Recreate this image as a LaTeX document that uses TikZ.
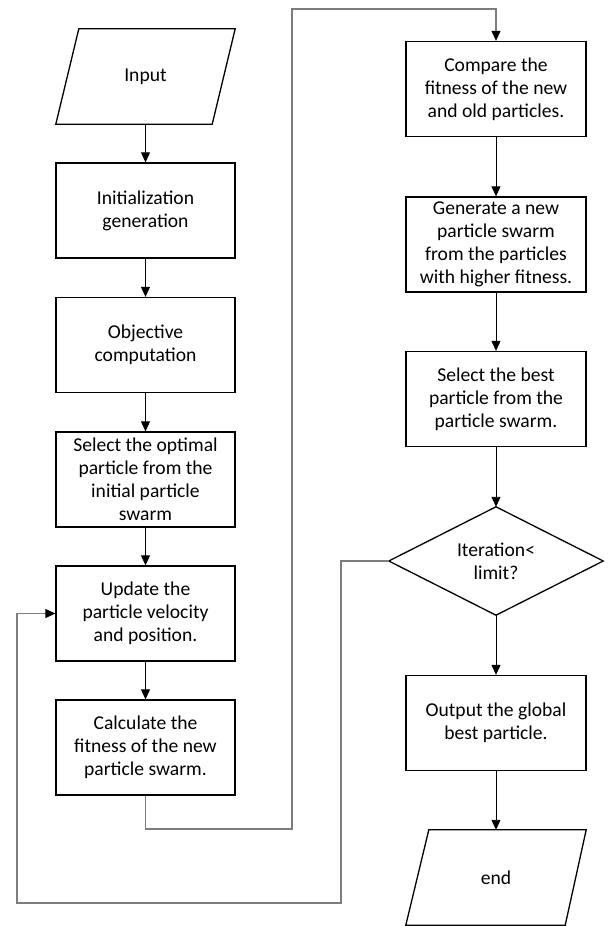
\documentclass[tikz,border=0pt]{standalone}
\usepackage{fontspec}
\setmainfont{Carlito}
\usetikzlibrary{arrows.meta}
\begin{document}
\begin{tikzpicture}[x=1pt,y=-1pt,
  every node/.style={font=\fontsize{19.6}{23}\selectfont, align=center, inner sep=0pt},
  procbox/.style={draw=black, line width=1.3pt, minimum width=179pt, minimum height=95pt},
  ghost/.style={minimum width=179pt, minimum height=95pt},
  arr/.style={draw=black, line width=0.9pt, -{Triangle[width=9pt,length=10pt]}},
  loopline/.style={draw={rgb,255:red,125;green,125;blue,125}, line width=1.1pt, -{Triangle[width=9pt,length=10pt,color=black]}},
  shapeline/.style={draw=black, line width=1.3pt, line join=miter}
]
\useasboundingbox (0,0) rectangle (608,926);
% left column
\node[ghost] (inp) at (145.5,76.5) {Input};
\draw[shapeline] ([xshift=23pt]inp.north west) -- (inp.north east) -- ([xshift=-23pt]inp.south east) -- (inp.south west) -- cycle;
\node[procbox] (init) at (145.5,210.5) {Initialization\\generation};
\node[procbox] (obj) at (145.5,345) {Objective\\computation};
\node[procbox] (selopt) at (145.5,479.5) {Select the optimal\\particle from the\\initial particle\\swarm};
\node[procbox] (upd) at (145.5,613.5) {Update the\\particle velocity\\and position.};
\node[procbox] (calc) at (145.5,747.5) {Calculate the\\fitness of the new\\particle swarm.};
% right column
\node[procbox, minimum width=180pt] (comp) at (496,89) {Compare the\\fitness of the new\\and old particles.};
\node[procbox, minimum width=180pt] (gen) at (496,244.5) {Generate a new\\particle swarm\\from the particles\\with higher fitness.};
\node[procbox, minimum width=180pt] (best) at (496,399) {Select the best\\particle from the\\particle swarm.};
\node[minimum width=214pt, minimum height=108pt] (dec) at (496,561) {Iteration<\\limit?};
\draw[shapeline] (dec.north) -- (dec.east) -- (dec.south) -- (dec.west) -- cycle;
\node[procbox, minimum width=180pt] (out) at (496,723) {Output the global\\best particle.};
\node[ghost, minimum width=180pt] (fin) at (496,877.5) {end};
\draw[shapeline] ([xshift=23pt]fin.north west) -- (fin.north east) -- ([xshift=-21pt]fin.south east) -- (fin.south west) -- cycle;
% helper coordinates
\coordinate (c1) at (292,829);
\coordinate (c2) at (496,9);
\coordinate (d1) at (341,903);
\coordinate (d2) at (17,613.5);
% arrows
\draw[arr] (inp.south) -- (init.north);
\draw[arr] (init.south) -- (obj.north);
\draw[arr] (obj.south) -- (selopt.north);
\draw[arr] (selopt.south) -- (upd.north);
\draw[arr] (upd.south) -- (calc.north);
\draw[loopline] (calc.south) |- (c1) |- (c2) -- (comp.north);
\draw[arr] (comp.south) -- (gen.north);
\draw[arr] (gen.south) -- (best.north);
\draw[arr] (best.south) -- (dec.north);
\draw[arr] (dec.south) -- (out.north);
\draw[arr] (out.south) -- (fin.north);
\draw[loopline] (dec.west) -| (d1) -| (d2) -- (upd.west);
\end{tikzpicture}
\end{document}
